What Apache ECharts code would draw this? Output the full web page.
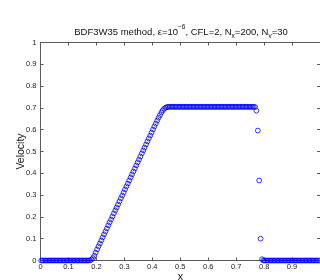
<!DOCTYPE html>
<html><head><meta charset="utf-8">
<script src="https://cdn.jsdelivr.net/npm/echarts@6/dist/echarts.min.js"></script>
<style>html,body{margin:0;padding:0;background:#fff}#c{width:320px;height:280px}</style>
</head><body><div id="c"></div>
<script>
// cell-centre positions (Nx = 200)
var xValues = [
0.0025,0.0075,0.0125,0.0175,0.0225,0.0275,0.0325,0.0375,0.0425,0.0475,
0.0525,0.0575,0.0625,0.0675,0.0725,0.0775,0.0825,0.0875,0.0925,0.0975,
0.1025,0.1075,0.1125,0.1175,0.1225,0.1275,0.1325,0.1375,0.1425,0.1475,
0.1525,0.1575,0.1625,0.1675,0.1725,0.1775,0.1825,0.1875,0.1925,0.1975,
0.2025,0.2075,0.2125,0.2175,0.2225,0.2275,0.2325,0.2375,0.2425,0.2475,
0.2525,0.2575,0.2625,0.2675,0.2725,0.2775,0.2825,0.2875,0.2925,0.2975,
0.3025,0.3075,0.3125,0.3175,0.3225,0.3275,0.3325,0.3375,0.3425,0.3475,
0.3525,0.3575,0.3625,0.3675,0.3725,0.3775,0.3825,0.3875,0.3925,0.3975,
0.4025,0.4075,0.4125,0.4175,0.4225,0.4275,0.4325,0.4375,0.4425,0.4475,
0.4525,0.4575,0.4625,0.4675,0.4725,0.4775,0.4825,0.4875,0.4925,0.4975,
0.5025,0.5075,0.5125,0.5175,0.5225,0.5275,0.5325,0.5375,0.5425,0.5475,
0.5525,0.5575,0.5625,0.5675,0.5725,0.5775,0.5825,0.5875,0.5925,0.5975,
0.6025,0.6075,0.6125,0.6175,0.6225,0.6275,0.6325,0.6375,0.6425,0.6475,
0.6525,0.6575,0.6625,0.6675,0.6725,0.6775,0.6825,0.6875,0.6925,0.6975,
0.7025,0.7075,0.7125,0.7175,0.7225,0.7275,0.7325,0.7375,0.7425,0.7475,
0.7525,0.7575,0.7625,0.7675,0.7725,0.7775,0.7825,0.7875,0.7925,0.7975,
0.8025,0.8075,0.8125,0.8175,0.8225,0.8275,0.8325,0.8375,0.8425,0.8475,
0.8525,0.8575,0.8625,0.8675,0.8725,0.8775,0.8825,0.8875,0.8925,0.8975,
0.9025,0.9075,0.9125,0.9175,0.9225,0.9275,0.9325,0.9375,0.9425,0.9475,
0.9525,0.9575,0.9625,0.9675,0.9725,0.9775,0.9825,0.9875,0.9925,0.9975
];
var velocity = [
0,0,0,0,0,0,0,0,0,0,
0,0,0,0,0,0,0,0,0,0,
0,0,0,0,0,0,0,0,0,0,
0,0,0,0,0,0.001,0.004,0.011,0.022,0.036,
0.051,0.065,0.078,0.092,0.106,0.120,0.133,0.147,0.161,0.175,
0.188,0.202,0.216,0.230,0.243,0.257,0.271,0.285,0.298,0.312,
0.326,0.340,0.353,0.367,0.381,0.395,0.408,0.422,0.436,0.450,
0.463,0.477,0.491,0.505,0.518,0.532,0.546,0.560,0.573,0.587,
0.601,0.615,0.628,0.642,0.655,0.667,0.679,0.689,0.696,0.701,
0.704,0.705,0.705,0.705,0.705,0.705,0.705,0.705,0.705,0.705,
0.705,0.705,0.705,0.705,0.705,0.705,0.705,0.705,0.705,0.705,
0.705,0.705,0.705,0.705,0.705,0.705,0.705,0.705,0.705,0.705,
0.705,0.705,0.705,0.705,0.705,0.705,0.705,0.705,0.705,0.705,
0.705,0.705,0.705,0.705,0.705,0.705,0.705,0.705,0.705,0.705,
0.705,0.705,0.705,0.705,0.705,0.705,0.705,0.705,0.705,0.705,
0.705,0.705,0.705,0.704,0.687,0.596,0.367,0.100,0.006,0.000,
0,0,0,0,0,0,0,0,0,0,
0,0,0,0,0,0,0,0,0,0,
0,0,0,0,0,0,0,0,0,0,
0,0,0,0,0,0,0,0,0,0
];
var xTicks = [0,0.1,0.2,0.3,0.4,0.5,0.6,0.7,0.8,0.9,1];
var yTicks = [0,0.1,0.2,0.3,0.4,0.5,0.6,0.7,0.8,0.9,1];

var pts = xValues.map(function(x,i){return [x, velocity[i]];});
var font = 'Liberation Sans, Arial, Helvetica, sans-serif';
var axisCol = '#5a5a5a';
function fmt(v){ return String(Math.round(v*10)/10); }

var chart = echarts.init(document.getElementById('c'), null, {renderer:'canvas'});
chart.setOption({
  animation:false,
  backgroundColor:'#fff',
  title:{
    left:176, top:19, textAlign:'center',
    text:'{a|BDF3W35 method, \u03b5=10}{sup|\u22126}{a|, CFL=2, N}{sub|x}{a|=200, N}{sub|v}{a|=30}',
    textStyle:{
      fontFamily:font, fontWeight:'normal',
      rich:{
        a:{fontSize:9.5, fontWeight:'normal', color:'#111', fontFamily:font, lineHeight:16, verticalAlign:'middle'},
        sup:{fontSize:6.5, fontWeight:'normal', color:'#111', fontFamily:font, lineHeight:7, verticalAlign:'top'},
        sub:{fontSize:6.5, fontWeight:'normal', color:'#111', fontFamily:font, lineHeight:7, verticalAlign:'bottom'}
      }
    }
  },
  grid:{left:40.5, right:0, top:42.5, bottom:19.5, containLabel:false, outerBoundsMode:'none'},
  xAxis:[{
    type:'value', min:0, max:1, interval:0.1,
    name:'x', nameLocation:'middle', nameGap:11, nameMoveOverlap:false,
    nameTextStyle:{fontFamily:font, fontSize:10.5, color:'#111'},
    axisLine:{show:true, onZero:false, lineStyle:{color:axisCol, width:1}},
    axisTick:{show:true, inside:true, length:3, lineStyle:{color:axisCol}},
    axisLabel:{fontFamily:font, fontSize:7.5, color:'#222', margin:2, showMaxLabel:false, formatter:fmt},
    splitLine:{show:false}
  },{
    type:'value', min:0, max:1, interval:0.1, position:'top',
    axisLine:{show:true, onZero:false, lineStyle:{color:axisCol, width:1}},
    axisTick:{show:true, inside:true, length:3, lineStyle:{color:axisCol}},
    axisLabel:{show:false}, splitLine:{show:false}
  }],
  yAxis:[{
    type:'value', min:0, max:1, interval:0.1,
    name:'Velocity', nameLocation:'middle', nameGap:14, nameMoveOverlap:false,
    nameTextStyle:{fontFamily:font, fontSize:10.5, color:'#111'},
    axisLine:{show:true, onZero:false, lineStyle:{color:axisCol, width:1}},
    axisTick:{show:true, inside:true, length:3, lineStyle:{color:axisCol}},
    axisLabel:{fontFamily:font, fontSize:7.5, color:'#222', margin:4, formatter:fmt},
    splitLine:{show:false}
  },{
    type:'value', min:0, max:1, interval:0.1, position:'right',
    axisLine:{show:true, onZero:false, lineStyle:{color:axisCol, width:1}},
    axisTick:{show:true, inside:true, length:3, lineStyle:{color:axisCol}},
    axisLabel:{show:false}, splitLine:{show:false}
  }],
  series:[{
    type:'scatter', xAxisIndex:0, yAxisIndex:0,
    data:pts, symbol:'circle', symbolSize:4.8,
    itemStyle:{color:'rgba(0,0,0,0)', borderColor:'#0000ff', borderWidth:1},
    clip:false
  }]
});
</script></body></html>
